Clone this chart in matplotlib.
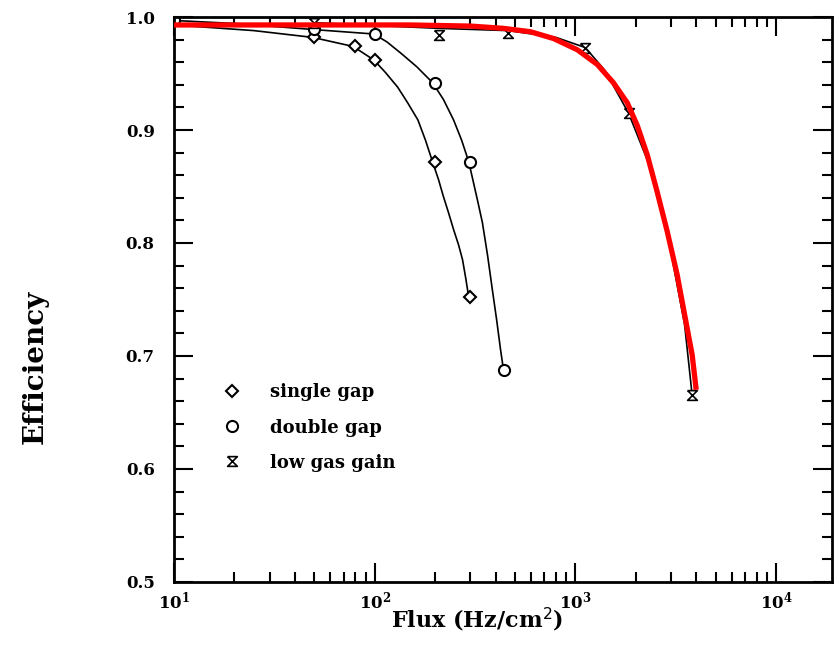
import numpy as np
import matplotlib.pyplot as plt
from matplotlib.ticker import LogLocator, MultipleLocator, NullFormatter

# datos
flux_single = [50, 80, 100, 200, 300]
eff_single = [0.982, 0.974, 0.962, 0.872, 0.752]
flux_double = [10, 50, 100, 200, 300, 440]
eff_double = [0.997, 0.989, 0.985, 0.942, 0.872, 0.688]
flux_low = [50, 208, 464, 1120, 1840, 3820]
eff_low = [0.995, 0.984, 0.986, 0.973, 0.915, 0.665]

# curvas trazadas a mano
curva_single_x = [10, 25, 49, 78, 99, 113, 130, 146, 164, 179, 194, 208, 220, 233,
                  247, 262, 274, 284, 294]
curva_single_y = [0.993, 0.988, 0.982, 0.974, 0.962, 0.951, 0.938, 0.924, 0.909, 0.891,
                  0.872, 0.856, 0.841, 0.827, 0.812, 0.798, 0.785, 0.769, 0.752]
curva_double_x = [10, 21.5, 49, 99, 115, 135, 162, 194, 220, 247, 271, 294, 325, 344,
                  365, 386, 405, 424, 438]
curva_double_y = [0.997, 0.994, 0.989, 0.985, 0.978, 0.968, 0.956, 0.942, 0.927, 0.909,
                  0.891, 0.872, 0.838, 0.818, 0.789, 0.758, 0.732, 0.705, 0.688]
curva_low_x = [50, 208, 464, 800, 1120, 1400, 1840, 2300, 2900, 3500, 3820]
curva_low_y = [0.995, 0.990, 0.988, 0.982, 0.973, 0.953, 0.915, 0.872, 0.805, 0.728, 0.665]

# curva roja (ajuste)
rojo_x = [10, 50, 150, 301, 438, 597, 778, 1023, 1286, 1545, 1815, 2034, 2281, 2558,
          2870, 3214, 3524, 3819, 4000]
rojo_y = [0.993, 0.993, 0.993, 0.992, 0.990, 0.987, 0.981, 0.971, 0.958, 0.942, 0.924,
          0.904, 0.878, 0.845, 0.810, 0.772, 0.734, 0.701, 0.670]

fuente = 'DejaVu Serif'

fig = plt.figure(figsize=(8.37, 6.56), dpi=100)
ax = fig.add_axes([0.208, 0.113, 0.786, 0.861])

ax.plot(curva_single_x, curva_single_y, color='black', lw=1.2)
ax.plot(curva_double_x, curva_double_y, color='black', lw=1.2)
ax.plot(curva_low_x, curva_low_y, color='black', lw=1.2)

# marcador tipo reloj de arena para "low gas gain"
reloj = [(-1, 1), (1, 1), (-1, -1), (1, -1), (-1, 1)]

ax.plot(flux_single, eff_single, linestyle='none', marker='D', ms=6, mfc='white',
        mec='black', mew=1.5, label='single gap')
ax.plot(flux_double, eff_double, linestyle='none', marker='o', ms=8, mfc='white',
        mec='black', mew=1.5, label='double gap')
ax.plot(flux_low, eff_low, linestyle='none', marker=reloj, ms=7, mfc='white',
        mec='black', mew=1.2, label='low gas gain')

ax.plot(rojo_x, rojo_y, color='red', lw=3.8, solid_capstyle='butt',
        solid_joinstyle='round', zorder=5)

ax.set_xscale('log')
ax.set_xlim(10, 1.9e4)
ax.set_ylim(0.5, 1.0)

ax.xaxis.set_major_locator(LogLocator(base=10, numticks=10))
ax.xaxis.set_minor_locator(LogLocator(base=10, subs=np.arange(2, 10), numticks=20))
ax.xaxis.set_minor_formatter(NullFormatter())
ax.yaxis.set_minor_locator(MultipleLocator(0.02))
ax.set_yticks([0.5, 0.6, 0.7, 0.8, 0.9, 1.0])
ax.set_yticklabels(['0.5', '0.6', '0.7', '0.8', '0.9', '1.0'])

ax.tick_params(which='both', direction='in', top=True, right=True, width=1.5)
ax.tick_params(which='major', length=14, labelsize=12)
ax.tick_params(axis='y', which='major', pad=14)
ax.tick_params(axis='x', which='major', pad=6)
ax.tick_params(which='minor', length=7)
for lab in ax.get_xticklabels() + ax.get_yticklabels():
    lab.set_family(fuente)
    lab.set_fontweight('bold')
for s in ax.spines.values():
    s.set_linewidth(2)

fig.text(477 / 837, 1 - 620 / 656, 'Flux (Hz/cm$^2$)', fontsize=16, family=fuente,
         fontweight='bold', ha='center', va='center')
fig.text(35 / 837, 1 - 367 / 656, 'Efficiency', fontsize=20, family=fuente,
         fontweight='bold', rotation=90, ha='center', va='center')

ax.legend(loc='upper left', bbox_to_anchor=(0.05, 0.38), frameon=False,
          prop={'family': fuente, 'weight': 'bold', 'size': 13}, handletextpad=1.6,
          labelspacing=0.95, handlelength=1.0)

fig.savefig('out.png', dpi=100)
